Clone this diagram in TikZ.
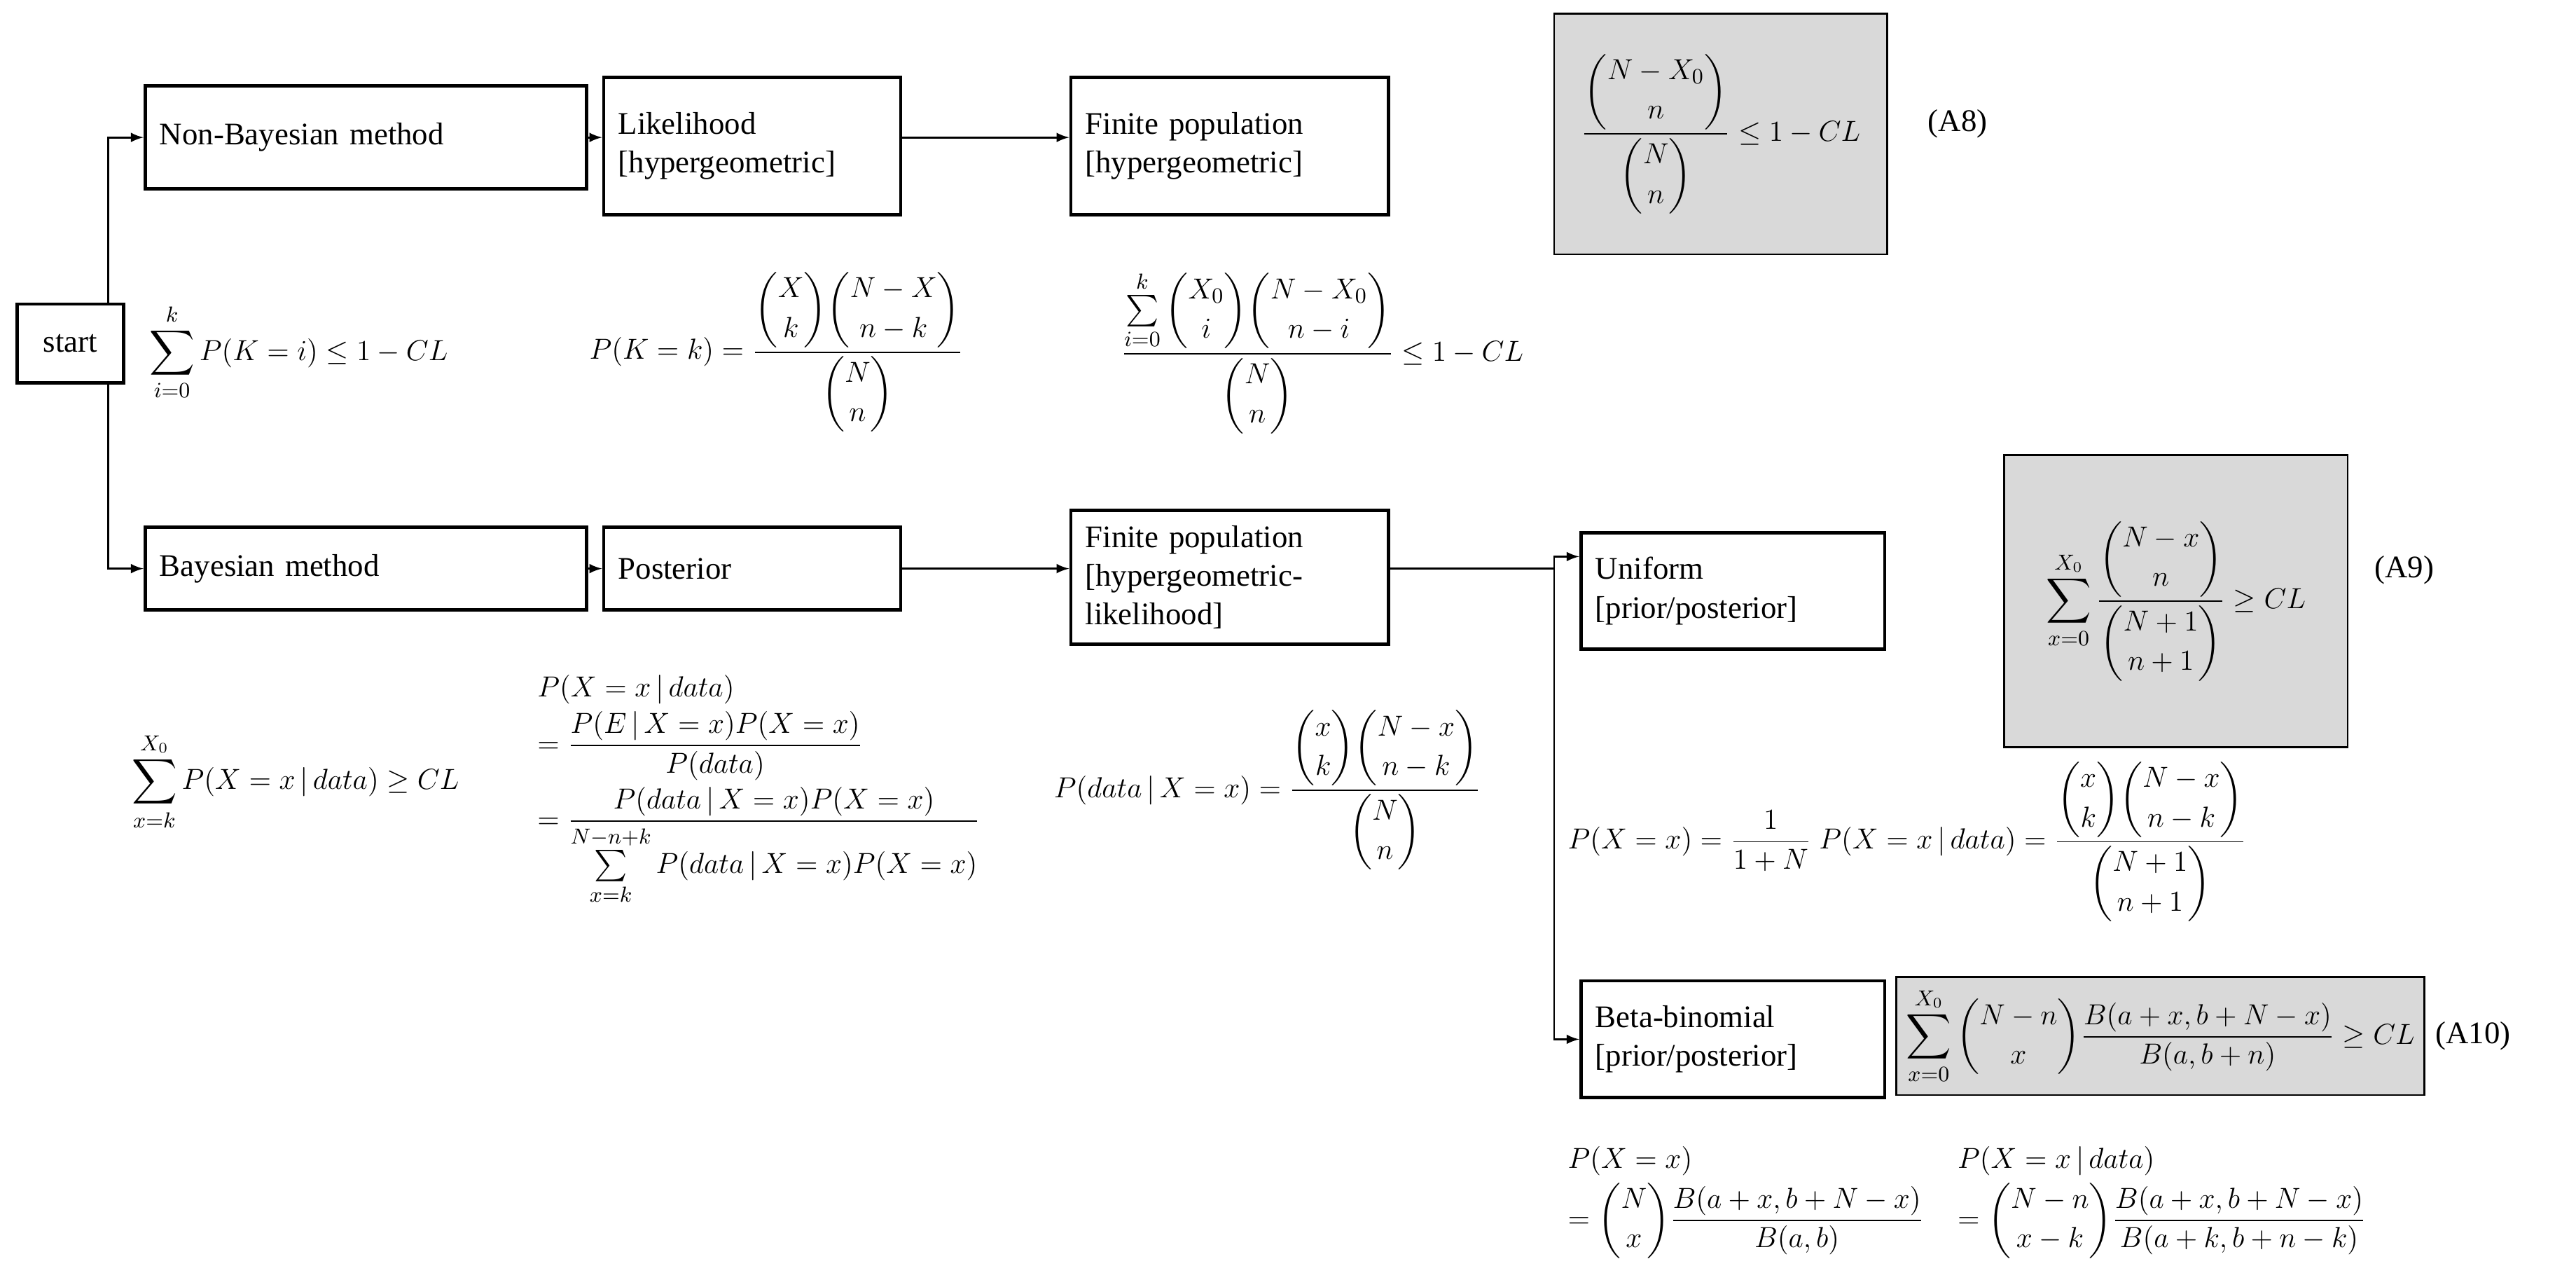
\documentclass[tikz,border=0pt]{standalone}
\usepackage{amsmath,amssymb}
\usepackage{fontspec}
\setmainfont{Liberation Serif}
\usepackage{tikz}
\usetikzlibrary{positioning}
\tikzset{
	boxnode/.style={rectangle, draw, line width=1.4pt, align=left, text width=#1, inner sep=6pt, minimum height=1.5cm},
	graynode/.style={rectangle, draw, fill=black!15, line width=0.8pt, inner sep=4pt},
	arr/.style={-latex, line width=0.8pt}
}
\newcommand{\dd}{\displaystyle}
\begin{document}
\begin{tikzpicture}[x=0.025cm, y=-0.025cm, font=\fontsize{13}{16}\selectfont]
		\useasboundingbox (0,0) rectangle (1500,741);
		%boxes
		\node[draw, line width=1.4pt, minimum width=1.55cm, minimum height=1.15cm] at (41,200) (start) {start};
		\node[boxnode=6cm, minimum height=1.5cm] at (213,80) (nonbayes) {Non-Bayesian method};
		\node[boxnode=3.9cm, minimum height=2cm] at (438,85) (lik) {Likelihood\\ {[}hypergeometric{]}};
		\node[boxnode=4.2cm, minimum height=2cm] at (716,85) (finite) {Finite population\\ {[}hypergeometric{]}};
		\node[boxnode=6cm, minimum height=1.2cm] at (213,331) (bayes) {Bayesian method};
		\node[boxnode=3.9cm, minimum height=1.2cm] at (438,331) (post) {Posterior};
		\node[boxnode=4.2cm, minimum height=1.95cm] at (716,336) (finiteb) {Finite population\\ {[}hypergeometric-\\ likelihood{]}};
		\node[boxnode=4cm, minimum height=1.7cm] at (1009,344) (unif) {Uniform\\ {[}prior/posterior{]}};
		\node[boxnode=4cm, minimum height=1.7cm] at (1009,605) (beta) {Beta-binomial\\ {[}prior/posterior{]}};
		
		%formulas
		\node at (1002,78) (A8) [graynode, minimum width=4.85cm, minimum height=3.5cm] {$\dd \frac{\dbinom{N-X_0}{n}}{\dbinom{N}{n}}\le 1-CL$};
		\node at (1140,72) (A8l) {(A8)};
		\node[anchor=west] at (82,205) (sumK) {$\dd \sum_{i=0}^{k}P(K=i)\le 1-CL$};
		\node at (452,205) (PKk) {$\dd P(K=k)=\frac{\dbinom{X}{k}\dbinom{N-X}{n-k}}{\dbinom{N}{n}}$};
		\node at (770,205) (finnb) {$\dd \frac{\sum\limits_{i=0}^{k}\dbinom{X_0}{i}\dbinom{N-X_0}{n-i}}{\dbinom{N}{n}}\le 1-CL$};
		\node at (172,455) (sumB) {$\dd \sum_{x=k}^{X_0}P(X=x\,|\,data)\ge CL$};
		\node[align=left, anchor=west] at (308,460) (postf) {$\dd P(X=x\,|\,data)$\\[2pt]
			$\dd =\frac{P(E\,|\,X=x)P(X=x)}{P(data)}$\\[2pt]
			$\dd =\frac{P(data\,|\,X=x)P(X=x)}{\sum\limits_{x=k}^{N-n+k}P(data\,|\,X=x)P(X=x)}$};
		\node at (738,460) (pdata) {$\dd P(data\,|\,X=x)=\frac{\dbinom{x}{k}\dbinom{N-x}{n-k}}{\dbinom{N}{n}}$};
		\node at (1267,350) (A9) [graynode, minimum width=5cm, minimum height=4.25cm] {$\dd \sum_{x=0}^{X_0}\frac{\dbinom{N-x}{n}}{\dbinom{N+1}{n+1}}\ge CL$};
		\node at (1400,332) (A9l) {(A9)};
		\node[anchor=west] at (908,490) (uniff) {$\dd P(X=x)=\frac{1}{1+N}\;P(X=x\,|\,data)=\frac{\dbinom{x}{k}\dbinom{N-x}{n-k}}{\dbinom{N+1}{n+1}}$};
		\node at (1258,603) (A10) [graynode, minimum width=5.45cm, minimum height=1.72cm] {$\dd \sum_{x=0}^{X_0}\binom{N-n}{x}\frac{B(a+x,b+N-x)}{B(a,b+n)}\ge CL$};
		\node at (1440,603) (A10l) {(A10)};
		\node[align=left, anchor=west] at (908,700) (betap) {$\dd P(X=x)$\\[2pt] $\dd =\binom{N}{x}\frac{B(a+x,b+N-x)}{B(a,b)}$};
		\node[align=left, anchor=west] at (1135,700) (betaq) {$\dd P(X=x\,|\,data)$\\[2pt] $\dd =\binom{N-n}{x-k}\frac{B(a+x,b+N-x)}{B(a+k,b+n-k)}$};
		
		%Lines
		\draw[arr] ([xshift=-0.25cm]start.north east) |- (nonbayes.west);
		\draw[arr] ([xshift=-0.25cm]start.south east) |- (bayes.west);
		\draw[arr] (nonbayes.east) -- (lik.west |- nonbayes.east);
		\draw[arr] (lik.east |- nonbayes.east) -- (finite.west |- nonbayes.east);
		\draw[arr] (bayes.east) -- (post.west);
		\draw[arr] (post.east) -- (finiteb.west |- post.east);
		\coordinate (split) at (905,331);
		\draw[line width=0.8pt] (finiteb.east |- post.east) -- (split);
		\draw[arr] (split) |- ([yshift=0.5cm]unif.west);
		\draw[arr] (split) |- (beta.west);
	\end{tikzpicture}
\end{document}
